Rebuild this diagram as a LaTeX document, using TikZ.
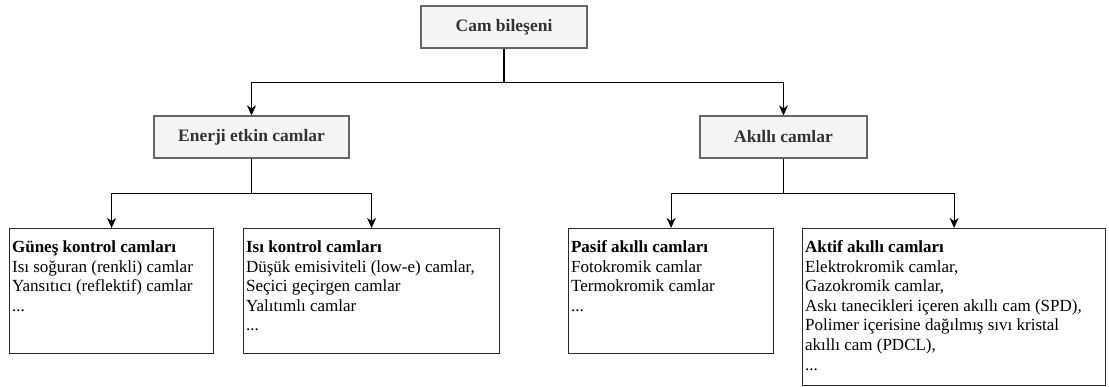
\documentclass[tikz,border=0pt]{standalone}
\usepackage{fontspec}
\setmainfont{Liberation Serif}
\usetikzlibrary{arrows.meta}
\definecolor{boxfill}{HTML}{F5F5F5}
\definecolor{boxline}{HTML}{666666}
\definecolor{txt}{HTML}{333333}
\definecolor{dark}{HTML}{2B2B2B}
\newcommand{\leafcontent}[3]{\begin{minipage}[t][#2pt][t]{#1pt}\raggedright\rule{0pt}{24pt}#3\end{minipage}}
\begin{document}
\begin{tikzpicture}[x=1pt,y=-1pt,
  head/.style={draw=boxline, fill=boxfill, line width=1.2pt, text=txt,
    font=\fontsize{17.5}{20}\selectfont\bfseries, minimum height=42pt, inner sep=0pt},
  leaf/.style={draw=dark, fill=white, line width=1.2pt, text=black, anchor=north west,
    font=\fontsize{17}{19.6}\selectfont, inner xsep=2.5pt, inner ysep=0pt},
  conn/.style={draw=black, line width=1.2pt, -{Stealth[length=10pt,width=9pt,inset=3pt]}}]
\useasboundingbox (0,0) rectangle (1109,387);

\node[head, minimum width=166pt] (cam) at (504,27) {Cam bileşeni};
\node[head, minimum width=195pt] (enerji) at (251.5,137) {Enerji etkin camlar};
\node[head, minimum width=167pt] (akilli) at (783.5,137) {Akıllı camlar};

\node[leaf] (gunes) at (9,228) {\leafcontent{199}{125}{\textbf{Güneş kontrol camları}\\
Isı soğuran (renkli) camlar\\
Yansıtıcı (reflektif) camlar\\
...}};
\node[leaf] (isi) at (243,228) {\leafcontent{251}{125}{\textbf{Isı kontrol camları}\\
Düşük emisiviteli (low-e) camlar,\\
Seçici geçirgen camlar\\
Yalıtımlı camlar\\
...}};
\node[leaf] (pasif) at (568,228) {\leafcontent{200}{125}{\textbf{Pasif akıllı camları}\\
Fotokromik camlar\\
Termokromik camlar\\
...}};
\node[leaf] (aktif) at (802,228) {\leafcontent{298}{157}{\textbf{Aktif akıllı camları}\\
Elektrokromik camlar,\\
Gazokromik camlar,\\
Askı tanecikleri içeren akıllı cam (SPD),\\
Polimer içerisine dağılmış sıvı kristal\\
akıllı cam (PDCL),\\
...}};

\draw[conn] (cam.south) -- ++(0,34) -| (enerji.north);
\draw[conn] (cam.south) -- ++(0,34) -| (akilli.north);
\draw[conn] (enerji.south) -- ++(0,35) -| (gunes.north);
\draw[conn] (enerji.south) -- ++(0,35) -| (isi.north);
\draw[conn] (akilli.south) -- ++(0,35) -| (pasif.north);
\draw[conn] (akilli.south) -- ++(0,35) -| (aktif.north);
\end{tikzpicture}
\end{document}
